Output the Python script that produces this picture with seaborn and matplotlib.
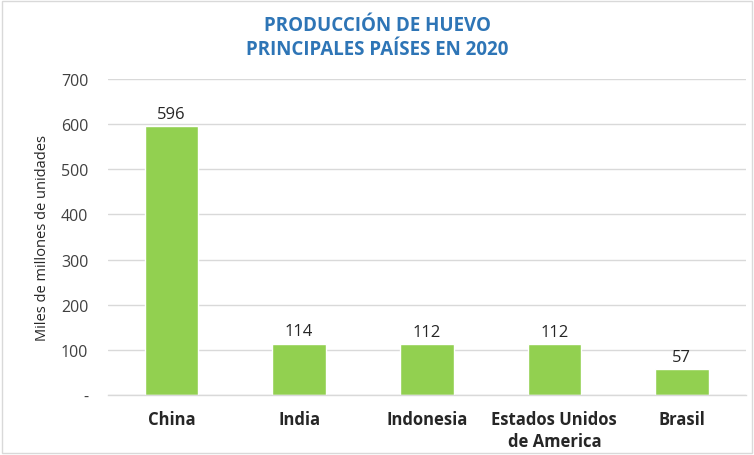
import matplotlib

matplotlib.use("Agg")
import matplotlib.pyplot as plt
import pandas as pd
import seaborn as sns
from matplotlib.patches import Rectangle

countries = ["China", "India", "Indonesia", "Estados Unidos\nde America", "Brasil"]
production = [596, 114, 112, 112, 57]
y_ticks = [0, 100, 200, 300, 400, 500, 600, 700]
y_tick_labels = ["-", "100", "200", "300", "400", "500", "600", "700"]

df = pd.DataFrame({"pais": countries, "huevos": production})

sns.set_theme(style="white")
plt.rcParams["font.family"] = ["Open Sans", "DejaVu Sans"]

fig = plt.figure(figsize=(7.54, 4.56), dpi=100, facecolor="white")
ax = fig.add_axes([0.143, 0.1316, 0.846, 0.693])

sns.barplot(data=df, x="pais", y="huevos", color="#92D050", saturation=1, width=0.42, ax=ax)

ax.set_ylim(0, 700)
ax.set_yticks(y_ticks)
ax.set_yticklabels(y_tick_labels, fontsize=11.5, color="#404040")
ax.tick_params(axis="y", length=0, pad=14)
ax.tick_params(axis="x", length=0, pad=11)
for lbl in ax.get_xticklabels():
    lbl.set_fontweight("bold")
    lbl.set_fontsize(12)
    lbl.set_color("#262626")
    lbl.set_linespacing(1.3)

ax.grid(axis="y", color="#D9D9D9", linewidth=1)
ax.set_axisbelow(True)
for side in ["top", "right", "left"]:
    ax.spines[side].set_visible(False)
ax.spines["bottom"].set_color("#D9D9D9")
ax.spines["bottom"].set_linewidth(1)

ax.set_xlabel("")
ax.set_ylabel("Miles de millones de unidades", fontsize=10.5, color="#262626", labelpad=8)

for container in ax.containers:
    ax.bar_label(container, fmt="%.0f", padding=3, fontsize=12, color="#262626")

fig.text(0.5, 0.966, "PRODUCCIÓN DE HUEVO\nPRINCIPALES PAÍSES EN 2020", ha="center", va="top",
         fontsize=13.5, fontweight="bold", color="#2E75B6", linespacing=1.3)

fig.patches.append(Rectangle((0.003, 0.004), 0.994, 0.992, transform=fig.transFigure,
                             fill=False, edgecolor="#D9D9D9", linewidth=1))

plt.savefig("out.png", dpi=100, facecolor="white")
plt.close()
